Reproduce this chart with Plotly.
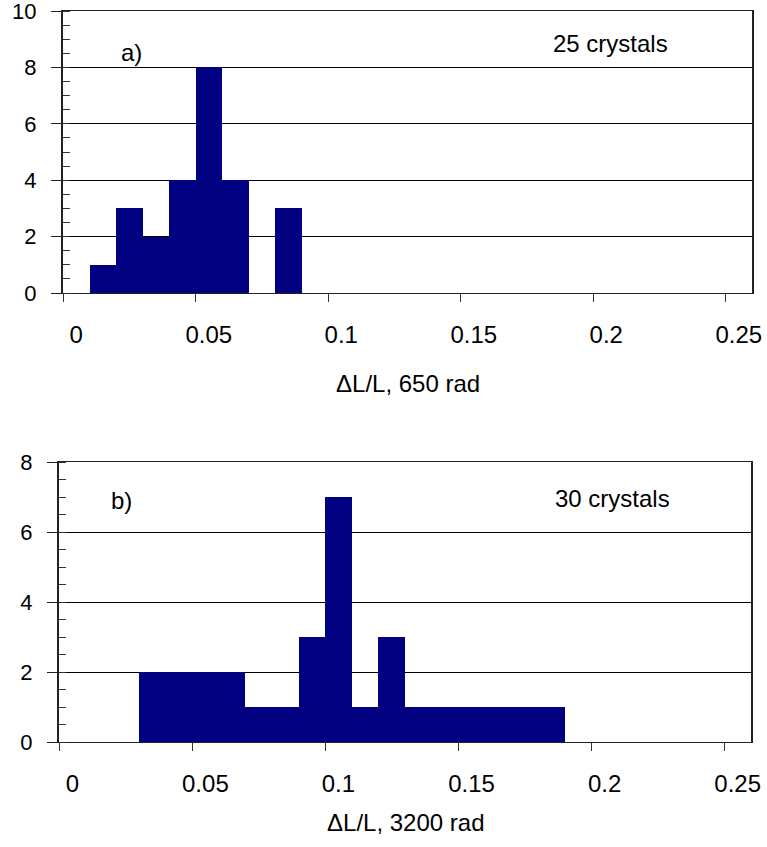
import plotly.graph_objects as go

# categories: dL/L bin centres (Excel-like category axis, 0..0.25 step 0.01)
bins = [round(i * 0.01, 2) for i in range(26)]
counts_a = [0, 1, 3, 2, 4, 8, 4, 0, 3] + [0] * 17
counts_b = [0, 0, 0, 2, 2, 2, 2, 1, 1, 3, 7, 1, 3, 1, 1, 1, 1, 1, 1] + [0] * 7
tick_labels = ["0", "0.05", "0.1", "0.15", "0.2", "0.25"]
tick_label_vals = [0, 0.05, 0.1, 0.15, 0.2, 0.25]
tick_mark_vals = [-0.005, 0.045, 0.095, 0.145, 0.195, 0.245]
xtitles = ["\u0394L/L, 650 rad", "\u0394L/L, 3200 rad"]
panel_labels = ["a)", "b)"]
crystal_labels = ["25 crystals", "30 crystals"]

W, H = 767, 847
FONT = "Arial, Liberation Sans, sans-serif"
NAVY = "#000080"
FS = 24
FSY = 22

def px(x):
    return x / W

def py(y):
    return (H - y) / H

fig = go.Figure()
fig.add_trace(go.Bar(x=bins, y=counts_a, marker=dict(color=NAVY, line=dict(width=0)),
                     xaxis="x", yaxis="y", showlegend=False))
fig.add_trace(go.Bar(x=bins, y=counts_b, marker=dict(color=NAVY, line=dict(width=0)),
                     xaxis="x2", yaxis="y2", showlegend=False))

xr = [-0.005, 0.255]
dom_top_x = [px(63), px(752)]
dom_bot_x = [px(59), px(751)]
dom_top_y = [py(293), py(11)]
dom_bot_y = [py(742), py(462)]

def xaxis(dom, anchor):
    return dict(domain=dom, range=xr, anchor=anchor, automargin=False,
                tickmode="array", tickvals=tick_label_vals, ticktext=tick_labels, ticks="",
                showgrid=False, zeroline=False, showline=True, linecolor="#222",
                linewidth=1, mirror=True, ticklabelstandoff=20, ticklabeloverflow="allow",
                minor=dict(tickmode="array", tickvals=tick_mark_vals, ticks="outside",
                           ticklen=8, tickcolor="#333", showgrid=False),
                tickfont=dict(family=FONT, size=FS, color="black"))

def yaxis(dom, anchor, top):
    return dict(domain=dom, range=[0, top], anchor=anchor, automargin=False,
                tickmode="linear", tick0=0,
                dtick=2, ticks="outside", ticklen=10, tickcolor="#222",
                showgrid=True, gridcolor="black", gridwidth=1, zeroline=False,
                showline=True, linecolor="#222", linewidth=2, mirror=True,
                ticklabelstandoff=10, ticklabeloverflow="allow",
                minor=dict(ticks="inside", dtick=0.5, tick0=0, ticklen=7,
                           tickcolor="#333", showgrid=False),
                tickfont=dict(family=FONT, size=FSY, color="black"))

fig.update_layout(
    width=W, height=H, margin=dict(l=0, r=0, t=0, b=0, autoexpand=False),
    paper_bgcolor="white", plot_bgcolor="white", bargap=0,
    xaxis=xaxis(dom_top_x, "y"),
    yaxis=yaxis(dom_top_y, "x", 10),
    xaxis2=xaxis(dom_bot_x, "y2"),
    yaxis2=yaxis(dom_bot_y, "x2", 8),
)

ann = []
ann.append(dict(x=0.021, y=8.54, xref="x", yref="y", text=panel_labels[0], showarrow=False,
                font=dict(family=FONT, size=FS, color="black")))
ann.append(dict(x=0.2017, y=8.85, xref="x", yref="y", text=crystal_labels[0], showarrow=False,
                font=dict(family=FONT, size=FS, color="black")))
ann.append(dict(x=0.0186, y=6.9, xref="x2", yref="y2", text=panel_labels[1], showarrow=False,
                font=dict(family=FONT, size=FS, color="black")))
ann.append(dict(x=0.2028, y=6.96, xref="x2", yref="y2", text=crystal_labels[1], showarrow=False,
                font=dict(family=FONT, size=FS, color="black")))
ann.append(dict(x=(dom_top_x[0] + dom_top_x[1]) / 2, y=py(384), xref="paper", yref="paper",
                text=xtitles[0], showarrow=False, yanchor="middle",
                font=dict(family=FONT, size=FS, color="black")))
ann.append(dict(x=(dom_bot_x[0] + dom_bot_x[1]) / 2, y=py(822), xref="paper", yref="paper",
                text=xtitles[1], showarrow=False, yanchor="middle",
                font=dict(family=FONT, size=FS, color="black")))
fig.update_layout(annotations=ann)

# remove the page's default body margin so the 767x847 figure fills the window exactly
fig.write_html("out.html", config={"displayModeBar": False},
               post_script="document.body.style.margin='0';document.body.style.overflow='hidden';")
